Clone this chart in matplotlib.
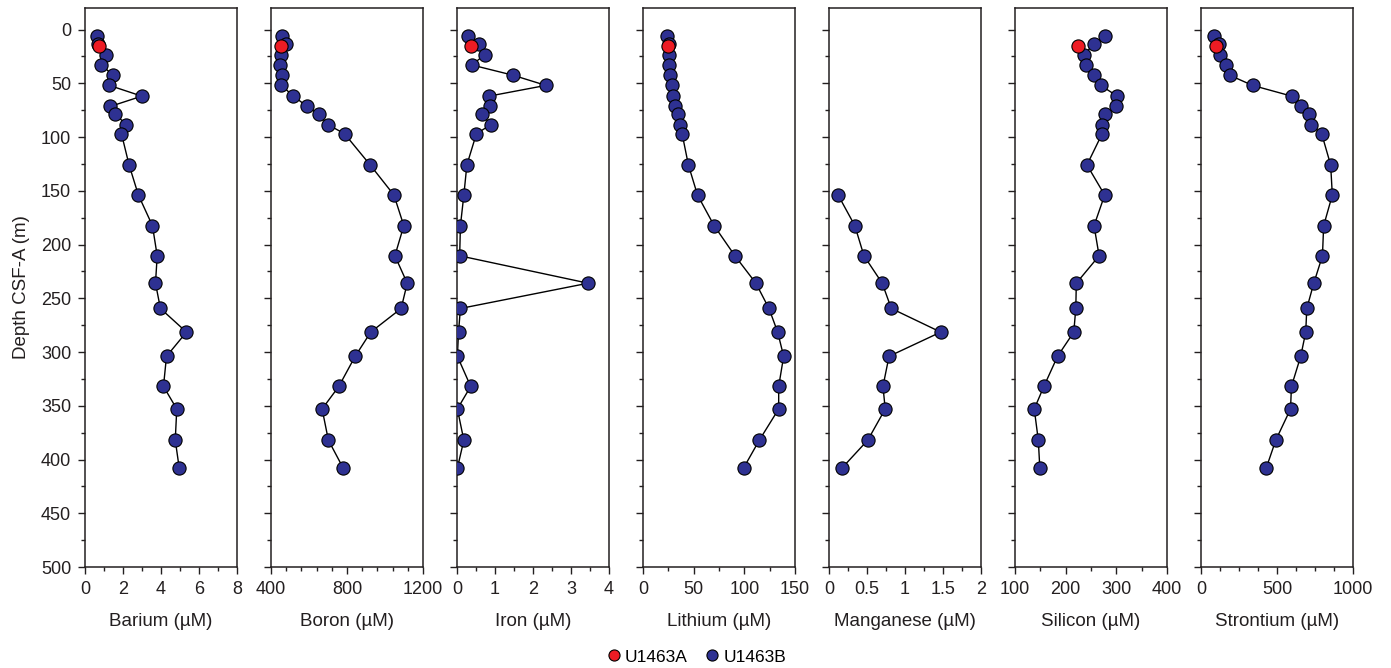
import matplotlib.pyplot as plt
import numpy as np
from matplotlib.lines import Line2D
from matplotlib.ticker import MultipleLocator, FixedLocator

plt.rcParams['font.family'] = ['Liberation Sans', 'DejaVu Sans']

# depths (m CSF-A) of the pore-water samples
depth_b = [6, 13.5, 23.5, 33, 42.5, 52, 62, 71.5, 79, 88.5, 97, 126, 154, 182.5,
           210.5, 236, 259.5, 281.5, 304, 332, 353, 382, 408]
depth_a = [15.5]
depth_b_mn = depth_b[12:]

barium_b = [0.62, 0.67, 1.11, 0.86, 1.48, 1.28, 2.99, 1.34, 1.60, 2.18, 1.92, 2.32,
            2.81, 3.55, 3.80, 3.71, 3.97, 5.34, 4.29, 4.13, 4.83, 4.75, 4.96]
boron_b = [458, 479, 453, 448, 456, 455, 518, 590, 651, 700, 787, 922, 1047, 1099,
           1052, 1117, 1085, 925, 843, 757, 669, 702, 780]
iron_b = [0.30, 0.57, 0.73, 0.39, 1.47, 2.34, 0.84, 0.87, 0.66, 0.89, 0.51, 0.26,
          0.18, 0.09, 0.07, 3.45, 0.09, 0.04, 0.01, 0.36, 0.01, 0.18, 0.01]
lithium_b = [24.1, 25.7, 25.7, 26.0, 27.0, 28.7, 29.3, 32.0, 34.3, 36.3, 38.6, 44.8,
             53.8, 70.2, 90.7, 111.4, 124.3, 132.9, 138.8, 133.9, 133.9, 114.8, 99.2]
manganese_b = [0.12, 0.34, 0.46, 0.70, 0.82, 1.47, 0.79, 0.71, 0.74, 0.51, 0.17]
silicon_b = [277, 255, 237, 241, 255, 269, 302, 300, 278, 271, 272, 242, 277, 256,
             266, 221, 220, 216, 184, 157, 138, 146, 149]
strontium_b = [88, 120, 125, 162, 188, 339, 597, 656, 713, 724, 794, 853, 864, 807,
               799, 742, 696, 689, 656, 595, 589, 492, 429]

barium_a = [0.74]
boron_a = [453]
iron_a = [0.37]
lithium_a = [24.7]
silicon_a = [225]
strontium_a = [100]

x_ticks = {
    "Barium (µM)": ([0, 2, 4, 6, 8], ['0', '2', '4', '6', '8']),
    "Boron (µM)": ([400, 800, 1200], ['400', '800', '1200']),
    "Iron (µM)": ([0, 1, 2, 3, 4], ['0', '1', '2', '3', '4']),
    "Lithium (µM)": ([0, 50, 100, 150], ['0', '50', '100', '150']),
    "Manganese (µM)": ([0, 0.5, 1, 1.5, 2], ['0', '0.5', '1', '1.5', '2']),
    "Silicon (µM)": ([100, 200, 300, 400], ['100', '200', '300', '400']),
    "Strontium (µM)": ([0, 500, 1000], ['0', '500', '1000']),
}

panels = [
    ("Barium (µM)", depth_b, barium_b, barium_a, (0, 8), 1),
    ("Boron (µM)", depth_b, boron_b, boron_a, (400, 1200), 80),
    ("Iron (µM)", depth_b, iron_b, iron_a, (0, 4), 0.5),
    ("Lithium (µM)", depth_b, lithium_b, lithium_a, (0, 150), 25),
    ("Manganese (µM)", depth_b_mn, manganese_b, None, (0, 2), 0.25),
    ("Silicon (µM)", depth_b, silicon_b, silicon_a, (100, 400), 50),
    ("Strontium (µM)", depth_b, strontium_b, strontium_a, (0, 1000), 125),
]

NAVY = '#2E3192'
RED = '#ED1C24'
INK = '#231F20'

W, H = 1391, 668
fig = plt.figure(figsize=(W / 100, H / 100), dpi=100)
lefts = [85, 271, 457, 643, 829, 1015, 1201]
pw = 152
top_px, bot_px = 8, 567

for i, (label, dep, vals, vals_a, xlim, minor) in enumerate(panels):
    ax = fig.add_axes([lefts[i] / W, (H - bot_px) / H, pw / W, (bot_px - top_px) / H])
    ax.plot(vals, dep, '-', color='black', lw=1.0, zorder=2)
    ax.plot(vals, dep, 'o', ms=9.5, mfc=NAVY, mec='black', mew=0.8, zorder=3)
    if vals_a is not None:
        ax.plot(vals_a, depth_a, 'o', ms=9.5, mfc=RED, mec='black', mew=0.8, zorder=4)
    ax.set_xlim(*xlim)
    ax.set_ylim(500, -20)
    ticks, labels = x_ticks[label]
    ax.set_xticks(ticks, labels)
    ax.xaxis.set_minor_locator(MultipleLocator(minor))
    ax.yaxis.set_major_locator(FixedLocator(np.arange(0, 501, 50)))
    ax.yaxis.set_minor_locator(MultipleLocator(25))
    ax.tick_params(which='both', direction='out', colors=INK, labelsize=13, width=1)
    ax.tick_params(which='major', length=5, pad=5)
    ax.tick_params(which='minor', length=3)
    if i != 0:
        ax.tick_params(axis='y', labelleft=False)
    else:
        ax.set_ylabel('Depth CSF-A (m)', fontsize=13.5, color=INK, labelpad=8)
    ax.set_xlabel(label, fontsize=13.5, color=INK, labelpad=11)
    for s in ax.spines.values():
        s.set_linewidth(1.1)
        s.set_color(INK)

handles = [
    Line2D([], [], marker='o', ls='none', ms=8, mfc=RED, mec='black', mew=0.8, label='U1463A'),
    Line2D([], [], marker='o', ls='none', ms=8, mfc=NAVY, mec='black', mew=0.8, label='U1463B'),
]
fig.legend(handles=handles, loc='center', bbox_to_anchor=(0.5, 1 - 657 / H), ncol=2,
           frameon=False, fontsize=12.5, handletextpad=0.15, columnspacing=0.9,
           handlelength=1.0)

fig.savefig('out.png', dpi=100)
